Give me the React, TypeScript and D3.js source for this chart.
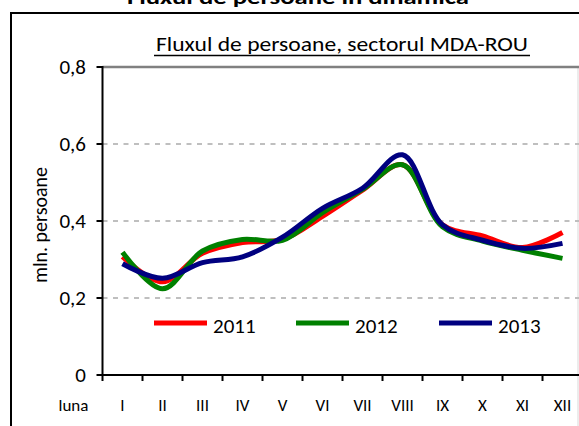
import React from 'react';
import * as d3 from 'd3';

const months = ['I', 'II', 'III', 'IV', 'V', 'VI', 'VII', 'VIII', 'IX', 'X', 'XI', 'XII'];
const years = ['2011', '2012', '2013'];
const colors = ['#ff0000', '#008000', '#000080'];
const values2011 = [0.307, 0.242, 0.316, 0.344, 0.352, 0.412, 0.48, 0.546, 0.39, 0.361, 0.331, 0.37];
const values2012 = [0.319, 0.224, 0.322, 0.352, 0.35, 0.422, 0.482, 0.546, 0.385, 0.348, 0.324, 0.303];
const values2013 = [0.289, 0.251, 0.292, 0.307, 0.358, 0.433, 0.485, 0.572, 0.39, 0.35, 0.329, 0.342];
const yTicks = [0, 0.2, 0.4, 0.6, 0.8];

const W = 579;
const H = 426;
const font = 'Calibri, Carlito, "Open Sans", sans-serif';

export default function App() {
  const series = [values2011, values2012, values2013];
  const left = 102.5;
  const right = 582.5;
  const top = 67;
  const bottom = 375;

  const x = d3.scaleBand().domain(months).range([left, right]);
  const y = d3.scaleLinear().domain([0, 0.8]).range([bottom, top]);

  const line = d3.line<number>()
    .x((_, i) => (x(months[i]) ?? 0) + x.bandwidth() / 2)
    .y(d => y(d))
    .curve(d3.curveCatmullRom.alpha(0.5));

  const fmt = (v: number) => (v === 0 ? '0' : d3.format('.1f')(v).replace('.', ','));

  const legendX = [154, 296, 439];

  return (
    <svg width={W} height={H} style={{ position: 'absolute', left: 0, top: 0, background: '#fff' }}>
      <text x={127} y={4} fontFamily={font} fontWeight="bold" fontSize={21}
        textLength={342} lengthAdjust="spacingAndGlyphs">
        Fluxul de persoane în dinamică
      </text>
      {/* cadru exterior */}
      <rect x={11} y={13} width={600} height={450} fill="none" stroke="#000" strokeWidth={2} />
      <line x1={578} x2={578} y1={top} y2={H} stroke="#d9d9d9" strokeWidth={1} />

      <text x={156} y={51} fontFamily={font} fontSize={21} textLength={372} lengthAdjust="spacingAndGlyphs">
        Fluxul de persoane, sectorul MDA-ROU
      </text>
      <line x1={154} x2={530} y1={55.5} y2={55.5} stroke="#000" strokeWidth={1.5} />

      {/* grila */}
      {yTicks.filter(t => t > 0).map(t => (
        <line key={t} x1={left} x2={W} y1={y(t)} y2={y(t)}
          stroke={t === 0.8 ? '#808080' : '#bfbfbf'} strokeWidth={t === 0.8 ? 2.5 : 2}
          strokeDasharray={t === 0.8 ? undefined : '5,5.5'} />
      ))}

      {/* axa y */}
      <line x1={left} x2={left} y1={top - 1} y2={bottom} stroke="#000" strokeWidth={2} />
      {yTicks.map(t => (
        <g key={t}>
          <line x1={left - 6} x2={left} y1={y(t)} y2={y(t)} stroke="#000" strokeWidth={2} />
          <text x={86} y={y(t) + 7} textAnchor="end" fontFamily={font} fontSize={21}>{fmt(t)}</text>
        </g>
      ))}
      <text transform={`translate(47,225) rotate(-90)`} textAnchor="middle" fontFamily={font} fontSize={20}>
        mln. persoane
      </text>

      {/* axa x */}
      <line x1={left - 1} x2={W} y1={bottom} y2={bottom} stroke="#000" strokeWidth={2} />
      {months.map(m => (
        <line key={'t' + m} x1={(x(m) ?? 0) + x.bandwidth()} x2={(x(m) ?? 0) + x.bandwidth()}
          y1={bottom} y2={bottom + 6} stroke="#000" strokeWidth={2} />
      ))}
      <line x1={left} x2={left} y1={bottom} y2={bottom + 6} stroke="#000" strokeWidth={2} />
      {months.map(m => (
        <text key={m} x={(x(m) ?? 0) + x.bandwidth() / 2} y={411} textAnchor="middle" fontFamily={font} fontSize={17}>
          {m}
        </text>
      ))}
      <text x={73.5} y={411} textAnchor="middle" fontFamily={font} fontSize={17}>luna</text>

      {/* serii */}
      {series.map((s, i) => (
        <path key={years[i]} d={line(s) ?? ''} fill="none" stroke={colors[i]} strokeWidth={5} strokeLinejoin="round" />
      ))}

      {/* legenda */}
      {years.map((yr, i) => (
        <g key={yr}>
          <line x1={legendX[i]} x2={legendX[i] + 53} y1={323} y2={323} stroke={colors[i]} strokeWidth={5} />
          <text x={legendX[i] + 59} y={333} fontFamily={font} fontSize={21}>{yr}</text>
        </g>
      ))}
    </svg>
  );
}
